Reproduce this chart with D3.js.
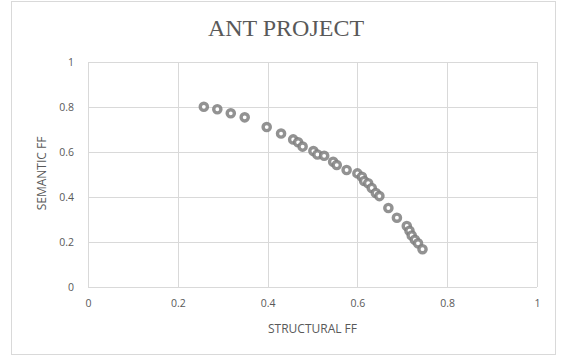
<!DOCTYPE html>
<html>
<head>
<meta charset="utf-8">
<script src="https://cdn.jsdelivr.net/npm/d3@7"></script>
<style>
  html, body { margin: 0; padding: 0; background: #fff; }
  svg { display: block; }
</style>
</head>
<body>
<svg id="chart" width="563" height="358"></svg>
<script>
// Structural vs. semantic FF values for the ANT project
const structuralFF = [0.258, 0.288, 0.318, 0.349, 0.398, 0.430, 0.457, 0.468, 0.478, 0.502,
                      0.511, 0.526, 0.546, 0.554, 0.576, 0.600, 0.610, 0.615, 0.624, 0.632,
                      0.641, 0.649, 0.669, 0.688, 0.710, 0.716, 0.721, 0.728, 0.735, 0.745];
const semanticFF   = [0.801, 0.790, 0.772, 0.754, 0.711, 0.682, 0.656, 0.643, 0.624, 0.604,
                      0.589, 0.583, 0.557, 0.542, 0.520, 0.505, 0.490, 0.471, 0.461, 0.440,
                      0.418, 0.404, 0.351, 0.308, 0.271, 0.250, 0.229, 0.210, 0.194, 0.168];
const xTicks = [0, 0.2, 0.4, 0.6, 0.8, 1];
const yTicks = [0, 0.2, 0.4, 0.6, 0.8, 1];

const svg = d3.select("#chart");
const plot = { left: 88, right: 537, top: 62, bottom: 287 };

// chart frame
svg.append("rect")
  .attr("x", 11.5).attr("y", 1.5)
  .attr("width", 544).attr("height", 353)
  .attr("fill", "#fff").attr("stroke", "#d9d9d9").attr("stroke-width", 1);

const x = d3.scaleLinear().domain([0, 1]).range([plot.left, plot.right]);
const y = d3.scaleLinear().domain([0, 1]).range([plot.bottom, plot.top]);

// gridlines
const grid = svg.append("g").attr("stroke", "#d9d9d9").attr("stroke-width", 1);
grid.selectAll("line.v").data(xTicks).join("line")
  .attr("class", "v")
  .attr("x1", d => Math.round(x(d)) + 0.5).attr("x2", d => Math.round(x(d)) + 0.5)
  .attr("y1", plot.top).attr("y2", plot.bottom);
grid.selectAll("line.h").data(yTicks).join("line")
  .attr("class", "h")
  .attr("x1", plot.left).attr("x2", plot.right)
  .attr("y1", d => Math.round(y(d)) + 0.5).attr("y2", d => Math.round(y(d)) + 0.5);

// axes (labels only; lines come from the grid)
const tickFont = "'Open Sans', sans-serif";
const xAxis = svg.append("g")
  .attr("transform", `translate(0,${plot.bottom})`)
  .call(d3.axisBottom(x).tickValues(xTicks).tickFormat(d3.format("~g")).tickSize(0).tickPadding(13));
const yAxis = svg.append("g")
  .attr("transform", `translate(${plot.left},0)`)
  .call(d3.axisLeft(y).tickValues(yTicks).tickFormat(d3.format("~g")).tickSize(0).tickPadding(14));
[xAxis, yAxis].forEach(a => {
  a.select(".domain").remove();
  a.selectAll("text")
    .attr("fill", "#595959")
    .style("font-family", tickFont)
    .style("font-size", "10.5px");
});

// data points: grey rings
svg.append("g").selectAll("circle")
  .data(structuralFF.map((v, i) => [v, semanticFF[i]]))
  .join("circle")
  .attr("cx", d => x(d[0]))
  .attr("cy", d => y(d[1]))
  .attr("r", 3.6)
  .attr("fill", "#fff")
  .attr("stroke", "#7f7f7f")
  .attr("stroke-opacity", 0.85)
  .attr("stroke-width", 3.4);

// title
svg.append("text")
  .attr("x", 286).attr("y", 36)
  .attr("text-anchor", "middle")
  .attr("fill", "#595959")
  .style("font-family", "'Liberation Serif', serif")
  .style("font-size", "24px")
  .text("ANT PROJECT");

// axis titles
svg.append("text")
  .attr("x", (plot.left + plot.right) / 2).attr("y", 333)
  .attr("text-anchor", "middle")
  .attr("fill", "#595959")
  .style("font-family", tickFont)
  .style("font-size", "12px")
  .text("STRUCTURAL FF");

svg.append("text")
  .attr("transform", `translate(46,${(plot.top + plot.bottom) / 2 - 1}) rotate(-90)`)
  .attr("text-anchor", "middle")
  .attr("fill", "#595959")
  .style("font-family", tickFont)
  .style("font-size", "12px")
  .text("SEMANTIC FF");
</script>
</body>
</html>
